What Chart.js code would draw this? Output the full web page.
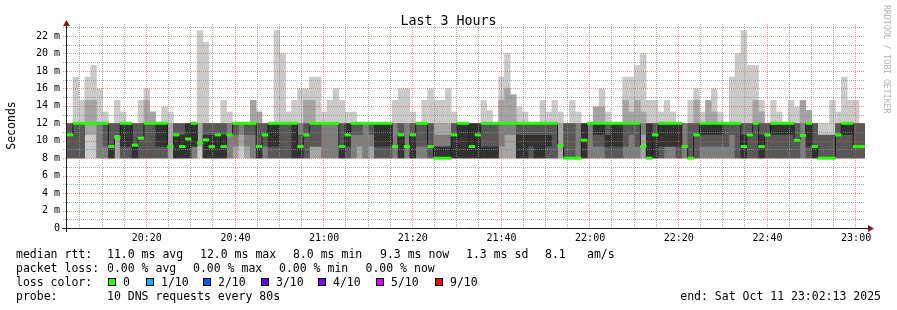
<!DOCTYPE html>
<html>
<head>
<meta charset="utf-8">
<script src="https://cdn.jsdelivr.net/npm/chart.js@4.4.0/dist/chart.umd.min.js"></script>
<style>
  html, body { margin: 0; padding: 0; background: #fff; }
  #wrap { width: 897px; height: 310px; }
</style>
</head>
<body>
<div id="wrap"><canvas id="smoke" width="897" height="310"></canvas></div>
<script>
// rtt levels the DNS answers cluster on (ms)
const levels = [8, 9.33, 10.67, 12];

// median rtt per 80s step (ms)
const median = [
  10.67, 12, 12, 12, 12, 12, 12, 9.33, 10.4, 12,
  12, 9.5, 10.3, 12, 12, 12, 12, 9.33, 10.67, 9.33,
  10.2, 12, 9.75, 10.1, 9.33, 10.67, 9.33, 10.67, 12, 12,
  12, 12, 9.33, 10.67, 12, 12, 12, 12, 12, 9.33,
  10.67, 12, 12, 12, 12, 12, 9.33, 10.67, 12, 12,
  12, 12, 12, 12, 12, 9.33, 10.67, 9.33, 10.67, 12,
  12, 9.33, 8, 8, 8, 10.67, 12, 12, 9.33, 10.67,
  12, 12, 12, 12, 12, 12, 12, 12, 12, 12,
  12, 12, 12, 9.44, 8, 8, 8, 10.06, 12, 12,
  12, 12, 12, 12, 12, 12, 12, 9.33, 8, 10.67,
  12, 12, 12, 12, 9.33, 8, 10.67, 12, 12, 12,
  12, 12, 12, 12, 9.33, 10.67, 12, 9.33, 10.67, 12,
  12, 12, 12, 10.06, 10.6, 12, 9.33, 8, 8, 8,
  10.67, 12, 12, 9.33, 9.33
];

// how many of the 10 pings landed on 8 / 9.33 / 10.67 ms (the rest on 12 ms)
const n8 = [
  4,4,4,1,1,3,3,5,2,4, 4,5,4,4,4,4,4,2,5,5, 5,3,1,5,5,5,5,3,2,1,
  2,3,5,3,4,4,4,4,5,5, 4,2,2,3,3,3,5,4,3,2, 3,2,4,4,4,3,5,3,5,3,
  3,4,5,5,5,5,5,5,5,5, 5,5,5,2,2,2,5,5,4,5, 5,4,4,2,4,4,3,5,3,3,
  3,4,4,4,3,3,3,2,5,5, 4,3,3,4,3,4,4,3,3,3, 3,3,3,4,5,4,4,5,4,4,
  4,4,4,4,3,4,5,4,4,4, 4,4,4,4,4
];
const n9 = [
  0,0,0,0,0,0,1,1,0,1, 1,1,0,0,0,1,1,0,0,0, 0,2,1,0,0,0,0,0,1,1,
  1,0,1,1,1,1,0,0,0,1, 0,2,2,0,0,0,1,1,0,1, 0,1,1,1,1,0,0,0,0,1,
  1,0,2,2,2,0,0,0,0,0, 1,1,1,1,0,0,0,0,1,0, 0,1,0,0,0,0,0,0,0,1,
  1,1,1,1,1,0,1,0,0,0, 1,2,2,1,0,0,0,1,1,1, 1,1,0,0,0,0,0,0,0,0,
  0,0,0,0,0,1,1,0,0,0, 0,0,0,0,0
];
const n11 = [
  0,0,0,1,1,0,0,0,2,0, 0,0,0,0,0,0,0,0,1,1, 0,0,0,1,1,1,1,0,1,1,
  1,1,0,0,0,0,0,0,0,1, 0,0,0,0,0,0,0,0,1,1, 0,1,0,0,0,0,1,0,1,0,
  0,0,1,1,1,1,0,0,0,0, 0,0,0,0,1,1,1,1,1,1, 1,1,0,0,0,0,0,0,0,1,
  1,1,0,0,0,1,0,1,0,1, 0,0,0,0,0,0,0,1,1,1, 1,0,1,0,1,0,0,1,0,1,
  1,1,1,0,0,0,0,5,5,5, 0,1,1,0,0
];

// two slowest pings per step (ms), 12 where they stayed in the band
const ping9 = [
  12,12,12,14.67,14.67,12,12,12,12,12, 12,12,12,14.67,13.33,12,12,12,12,12,
  12,12,12,12,12,12,12,12,12,12, 12,14.67,13.33,12,12,12,12,12,12,12,
  14.67,14.67,12,12,12,12,12,12,12,12, 12,12,12,12,12,12,12,12,12,12,
  12,12,12,12,12,12,12,12,12,12, 12,12,12,14.67,16,15.3,12,12,12,12,
  12,12,12,12,12,12,12,12,12,13.9, 13.9,12,12,12,14.67,13.33,14.67,13.33,12,12,
  12,12,12,12,12,12,14.67,12,14.67,13.33, 12,12,12,12,12,12,14.67,13.33,12,12,
  12,12,12,12,14.67,13.5,12,12,12,12, 12,12,12,12,12
];
const ping10 = [
  12,17.33,14.67,17.33,18.67,16,13.33,12,14.67,13.33,
  12,12,14.67,16,13.33,12,13.9,13.33,12,12,
  12,12,22.67,21.33,12,12,14.67,13.33,12,12,
  12,14.67,13.33,12,12,22.67,20,13.33,14.67,16,
  16,17.33,17.33,13.33,14.67,16,14.67,13.33,13.33,12,
  12,12,12,12,12,14.67,16,16,13.33,12,
  14.67,16,14.67,14.67,16,13.33,12,12,12,12,
  14.67,13.5,12,17.33,20,15.3,13.9,13.33,12,12,
  14.67,13.33,14.67,13.33,12,14.67,13.33,12,12,13.9,
  16,13.33,12,12,17.33,17.33,18.67,20,14.67,14.67,
  13.33,14.67,13.33,12,12,14.67,16,13.33,14.67,16,
  13.33,12,17.33,20,22.67,18.67,18.67,14.67,12,14.67,
  13.33,12,14.67,13.9,14.67,13.5,12,12,12,14.67,
  13.33,17.33,14.67,14.67,12
];

const timeTicks = ['20:20', '20:40', '21:00', '21:20', '21:40', '22:00', '22:20', '22:40', '23:00'];
const yTicks = [0, 2, 4, 6, 8, 10, 12, 14, 16, 18, 20, 22];
const lossColors = [
  ['0', '#26ff00'], ['1/10', '#00b8ff'], ['2/10', '#0059ff'], ['3/10', '#5e00ff'],
  ['4/10', '#7e00ff'], ['5/10', '#dd00ff'], ['9/10', '#ff0000']
];
const smokeGreys = ['#cacaca', '#a4a4a4', '#7e7e7e', '#585858', '#323232'];

const startMin = 20 * 60 + 2 + 13 / 60;   // 20:02:13, 3 hours shown
const stepMin = 80 / 60;
const toMin = s => { const [h, m] = s.split(':').map(Number); return h * 60 + m - startMin; };
const tickAt = {};
timeTicks.forEach(t => { tickAt[Math.floor(toMin(t) / stepMin)] = t; });

// sorted pings per step
const pings = median.map((_, i) => {
  const p = [];
  for (let k = 0; k < n8[i]; k++) p.push(levels[0]);
  for (let k = 0; k < n9[i]; k++) p.push(levels[1]);
  for (let k = 0; k < n11[i]; k++) p.push(levels[2]);
  while (p.length < 10) p.push(levels[3]);
  if (ping9[i] > 12) p[8] = ping9[i];
  if (ping10[i] > 12) p[9] = ping10[i];
  return p;
});

const steps = median.map((_, i) => String(i));

const datasets = smokeGreys.map((c, layer) => ({
  type: 'bar',
  data: pings.map(p => [p[layer], p[9 - layer]]),
  backgroundColor: c,
  borderWidth: 0,
  barPercentage: 1.08,
  categoryPercentage: 1,
  grouped: false,
  order: 10 - layer
}));
datasets.push({
  type: 'line',
  data: median,
  borderColor: '#1f1f1f',
  borderWidth: 1,
  pointRadius: 0,
  stepped: 'middle',
  order: 1
});
datasets.push({
  type: 'bar',
  data: median.map(m => [m - 0.17, m + 0.17]),
  backgroundColor: '#26ff00',
  borderWidth: 0,
  barPercentage: 1.08,
  categoryPercentage: 1,
  grouped: false,
  order: 0
});

const mono = '"DejaVu Sans Mono", monospace';

const rrdDecor = {
  id: 'rrdDecor',
  beforeDatasetDraw(chart, args) {
    if (args.index !== 5) return;
    const { ctx, chartArea: a, scales } = chart;
    const tx = m => a.left + m / 180 * (a.right - a.left);
    ctx.save();
    ctx.lineWidth = 1;
    ctx.setLineDash([1, 1]);
    // horizontal grid
    for (let v = 1; v <= 23; v++) {
      const y = Math.round(scales.y.getPixelForValue(v)) + 0.5;
      ctx.strokeStyle = v % 2 === 0 ? 'rgba(222,79,79,0.6)' : 'rgba(143,143,143,0.75)';
      ctx.beginPath(); ctx.moveTo(63, y); ctx.lineTo(a.right, y); ctx.stroke();
    }
    // vertical grid every 5 minutes
    for (let t = 20 * 60 + 5; t <= 23 * 60; t += 5) {
      const x = Math.round(tx(t - startMin)) + 0.5;
      ctx.strokeStyle = t % 20 === 0 ? 'rgba(222,79,79,0.6)' : 'rgba(143,143,143,0.75)';
      ctx.beginPath(); ctx.moveTo(x, a.top); ctx.lineTo(x, a.bottom + 2); ctx.stroke();
    }
    ctx.restore();
  },
  afterDraw(chart) {
    const { ctx, chartArea: a } = chart;
    ctx.save();
    // axes
    ctx.strokeStyle = '#1f1f1f';
    ctx.lineWidth = 1;
    ctx.beginPath();
    ctx.moveTo(62, a.bottom + 0.5); ctx.lineTo(869, a.bottom + 0.5);
    ctx.moveTo(a.left - 0.5, a.bottom + 4); ctx.lineTo(a.left - 0.5, 25);
    ctx.stroke();
    ctx.fillStyle = 'rgb(128,31,31)';
    ctx.beginPath();
    ctx.moveTo(868, a.bottom - 3); ctx.lineTo(874, a.bottom + 0.5); ctx.lineTo(868, a.bottom + 4);
    ctx.closePath(); ctx.fill();
    ctx.beginPath();
    ctx.moveTo(a.left - 4, 26); ctx.lineTo(a.left - 0.5, 20); ctx.lineTo(a.left + 3, 26);
    ctx.closePath(); ctx.fill();

    // title
    ctx.fillStyle = '#000';
    ctx.textBaseline = 'alphabetic';
    ctx.font = '13.3px ' + mono;
    ctx.textAlign = 'center';
    ctx.fillText('Last 3 Hours', 448.5, 25);

    // y title
    ctx.save();
    ctx.translate(15, 125.5);
    ctx.rotate(-Math.PI / 2);
    ctx.font = '11.5px ' + mono;
    ctx.fillText('Seconds', 0, 0);
    ctx.restore();

    // watermark
    ctx.save();
    ctx.translate(884, 5);
    ctx.rotate(Math.PI / 2);
    ctx.textAlign = 'left';
    ctx.fillStyle = '#b4b4b4';
    ctx.font = '8.2px ' + mono;
    ctx.fillText('RRDTOOL / TOBI OETIKER', 0, 0);
    ctx.restore();

    // legend
    ctx.font = '11.5px ' + mono;
    ctx.textAlign = 'left';
    ctx.fillStyle = '#000';
    const row = (y, items) => items.forEach(([x, s]) => ctx.fillText(s, x, y));
    row(258, [[16, 'median rtt:'], [107, '11.0 ms avg'], [200, '12.0 ms max'], [293, '8.0 ms min'],
      [380, '9.3 ms now'], [466, '1.3 ms sd'], [545, '8.1'], [587, 'am/s']]);
    row(272, [[16, 'packet loss:'], [107, '0.00 % avg'], [193, '0.00 % max'], [279, '0.00 % min'], [365.5, '0.00 % now']]);
    row(286, [[16, 'loss color:']]);
    const boxX = [108, 146, 203, 261, 318, 376, 435];
    lossColors.forEach(([label, color], i) => {
      ctx.fillStyle = color;
      ctx.fillRect(boxX[i], 278, 8, 8);
      ctx.strokeStyle = '#000';
      ctx.strokeRect(boxX[i] + 0.5, 278.5, 7, 7);
      ctx.fillStyle = '#000';
      ctx.fillText(label, boxX[i] + 15, 286);
    });
    row(300, [[16, 'probe:'], [107, '10 DNS requests every 80s']]);
    ctx.textAlign = 'right';
    ctx.fillText('end: Sat Oct 11 23:02:13 2025', 881, 300);
    ctx.restore();
  }
};

new Chart(document.getElementById('smoke'), {
  type: 'bar',
  data: { labels: steps, datasets },
  options: {
    responsive: false,
    animation: false,
    devicePixelRatio: 1,
    events: [],
    layout: { padding: { left: 0, right: 32, top: 24, bottom: 62 } },
    plugins: { legend: { display: false }, tooltip: { enabled: false } },
    scales: {
      x: {
        type: 'category', position: 'bottom',
        grid: { display: false, drawTicks: false }, border: { display: false },
        afterFit: s => { s.height = 20; },
        ticks: {
          autoSkip: false, maxRotation: 0, padding: 4, color: '#000',
          font: { family: mono, size: 10 },
          callback: (v, i) => tickAt[i] || ''
        }
      },
      y: {
        type: 'linear', position: 'left', min: 0, max: 23.375,
        grid: { display: false, drawTicks: false }, border: { display: false },
        afterBuildTicks: s => { s.ticks = yTicks.map(v => ({ value: v })); },
        afterFit: s => { s.width = 67; },
        ticks: {
          padding: 7, color: '#000',
          font: { family: mono, size: 10 },
          callback: v => v === 0 ? '0' : v + ' m'
        }
      }
    }
  },
  plugins: [rrdDecor]
});
</script>
</body>
</html>
